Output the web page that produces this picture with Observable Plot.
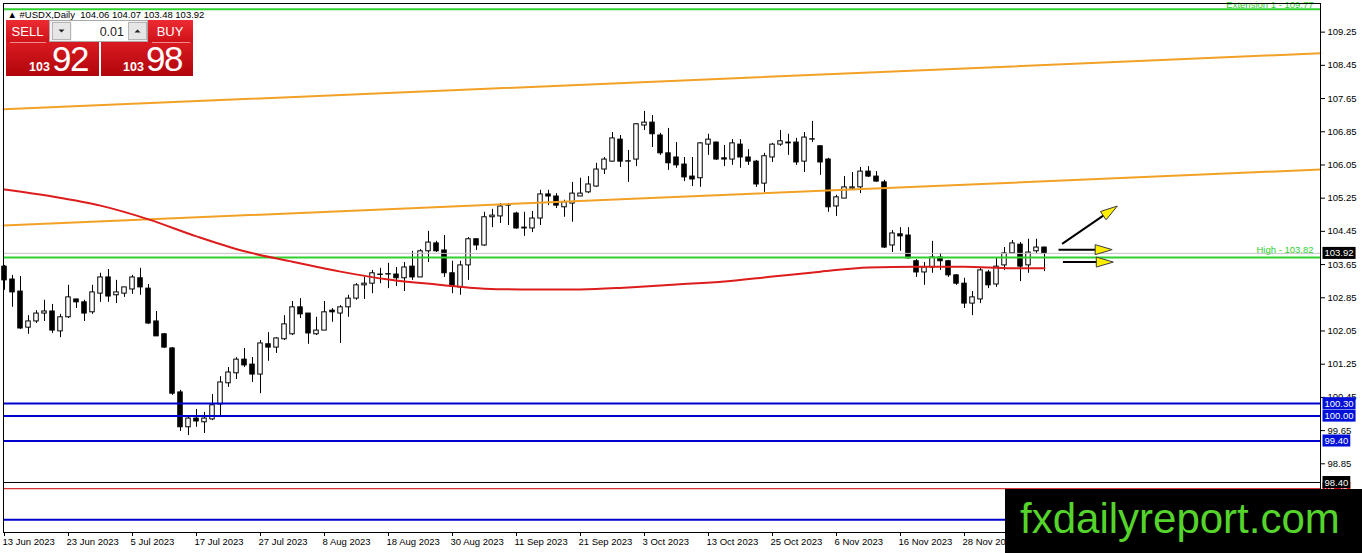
<!DOCTYPE html>
<html><head><meta charset="utf-8">
<script src="https://cdn.jsdelivr.net/npm/d3@7"></script>
<script src="https://cdn.jsdelivr.net/npm/@observablehq/plot@0.6"></script>
<style>
html,body{margin:0;padding:0;background:#fff;}
#wrap{position:relative;width:1362px;height:553px;overflow:hidden;}
#wrap svg{display:block;}
#overlay{position:absolute;left:0;top:0;pointer-events:none;}
</style></head><body>
<div id="wrap"></div>
<script>
// ---- data (USDX daily, 13 Jun 2023 onward, one value per trading day) ----
const open = [103.60,103.29,103.00,102.13,102.28,102.47,102.52,102.04,102.38,102.81,
102.74,102.50,102.95,103.34,102.91,102.95,103.05,103.32,103.07,102.28,
101.97,101.63,100.57,99.73,99.94,99.85,99.92,100.28,100.79,101.03,
101.36,101.24,101.00,101.73,101.65,101.85,101.97,102.62,102.47,101.97,
102.06,102.54,102.47,102.62,102.83,103.15,103.19,103.40,103.41,103.41,
103.32,103.60,103.34,103.97,104.16,103.99,103.44,103.10,103.63,104.26,
104.11,104.79,104.81,105.07,104.88,104.52,104.52,104.76,105.34,105.29,
105.03,105.12,105.29,105.39,105.53,105.94,106.13,106.66,106.13,106.18,
107.00,107.07,106.76,106.33,106.23,106.06,105.77,105.73,106.54,106.59,
106.21,106.18,106.54,106.23,106.13,105.60,106.23,106.54,106.59,106.59,
106.13,106.66,106.50,106.18,105.05,105.24,105.48,105.51,105.89,105.77,
105.63,104.11,104.38,104.35,103.73,103.46,103.58,103.82,103.73,103.39,
103.19,102.71,102.81,103.46,103.17,103.63,103.92,104.13,103.63,103.97,
104.06];
const high = [103.63,103.39,103.36,102.42,102.54,102.79,102.69,102.45,103.15,102.81,
102.79,103.15,103.44,103.53,103.27,103.10,103.39,103.56,103.17,102.52,
101.99,101.65,100.62,100.01,100.16,100.09,100.52,100.95,101.17,101.41,
101.63,101.41,101.82,102.01,101.89,102.42,102.76,102.83,102.47,102.38,
102.76,102.59,102.66,102.91,103.19,103.34,103.51,103.56,103.68,103.58,
103.70,103.97,104.01,104.45,104.21,104.35,103.73,103.73,104.30,104.26,
104.91,104.98,105.12,105.12,104.91,104.91,104.93,105.44,105.44,105.36,
105.20,105.63,105.73,105.77,106.09,106.23,106.83,106.76,106.40,107.05,
107.34,107.24,106.81,106.93,106.59,106.23,106.23,106.59,106.79,106.60,
106.52,106.66,106.66,106.42,106.16,106.33,106.57,106.88,106.79,106.69,
106.83,107.10,106.51,106.21,105.32,105.77,105.87,105.99,106.01,105.89,
105.68,104.47,104.54,104.54,103.77,103.70,104.21,103.92,103.75,103.41,
103.32,103.00,103.58,103.51,103.82,104.06,104.23,104.18,104.26,104.26,
104.07];
const low = [103.03,102.62,102.09,101.97,102.23,102.28,101.99,101.89,102.35,102.59,
102.28,102.45,102.74,102.74,102.71,102.86,102.93,102.91,102.21,101.92,
101.63,100.50,99.63,99.53,99.73,99.58,99.89,99.97,100.69,100.88,
101.17,100.81,100.54,101.32,101.51,101.82,101.94,102.35,101.73,101.94,
102.06,102.26,101.75,102.38,102.79,102.81,102.95,103.19,103.07,103.12,
103.00,103.27,103.34,103.70,103.94,103.34,102.95,102.91,103.27,103.99,
104.09,104.54,104.64,104.59,104.50,104.33,104.42,104.59,105.07,105.00,
104.79,104.67,105.29,105.36,105.51,105.82,106.12,105.99,105.63,106.01,
106.88,106.47,106.28,105.92,105.97,105.65,105.53,105.51,106.28,106.16,
106.01,106.04,105.97,106.04,105.51,105.39,106.11,106.50,106.28,106.04,
105.87,106.59,105.80,104.91,104.81,105.24,105.44,105.36,105.75,105.63,
104.04,103.94,103.97,103.78,103.34,103.15,103.44,103.51,103.34,103.15,
102.59,102.42,102.71,103.07,103.10,103.51,103.91,103.24,103.44,103.92,
103.48];
const close = [103.27,102.98,102.11,102.28,102.47,102.52,102.06,102.38,102.86,102.74,
102.47,102.98,103.34,102.88,102.98,103.10,103.34,103.10,102.23,101.92,
101.65,100.54,99.73,99.94,99.87,99.94,100.26,100.81,101.05,101.36,
101.22,101.00,101.75,101.65,101.87,102.21,102.62,102.45,101.99,102.06,
102.50,102.50,102.62,102.83,103.15,103.19,103.44,103.41,103.42,103.32,
103.58,103.34,103.97,104.18,103.97,103.44,103.12,103.63,104.26,104.11,
104.79,104.83,105.05,105.08,104.52,104.54,104.76,105.34,105.29,105.07,
105.15,105.36,105.36,105.58,105.94,106.18,106.69,106.13,106.14,107.03,
107.07,106.79,106.33,106.09,106.04,105.75,105.70,106.57,106.66,106.18,
106.18,106.57,106.23,106.13,105.58,106.26,106.54,106.62,106.57,106.11,
106.71,106.67,106.11,105.03,105.27,105.51,105.51,105.89,105.77,105.65,
104.06,104.40,104.33,103.80,103.46,103.58,103.82,103.73,103.39,103.19,
102.71,102.86,103.51,103.15,103.60,103.92,104.16,103.60,103.94,104.06,
103.92];

const tickLabels = ["13 Jun 2023","23 Jun 2023","5 Jul 2023","17 Jul 2023","27 Jul 2023","8 Aug 2023","18 Aug 2023","30 Aug 2023","11 Sep 2023","21 Sep 2023","3 Oct 2023","13 Oct 2023","25 Oct 2023","6 Nov 2023","16 Nov 2023","28 Nov 2023"];
const barsPerTick = 8;
const priceTicks = [109.25,108.45,107.65,106.85,106.05,105.25,104.45,103.65,102.85,102.05,101.25,100.45,99.65,98.85];

// moving average (red), read at sample bars
const maBar   = [0,6,12,18,24,30,36,42,48,54,60,66,72,78,84,90,96,102,108,114,120,126,130];
const maValue = [105.46,105.29,105.07,104.74,104.33,103.97,103.72,103.48,103.29,103.17,103.07,103.05,103.05,103.10,103.17,103.24,103.36,103.48,103.58,103.60,103.60,103.56,103.56];

// orange channel (value at left edge, value at right edge)
const channelUpper = [107.39, 108.74];
const channelLower = [104.59, 105.94];

const greenLevels = [109.80, 103.82];
const blueLevels = [100.30, 100.00, 99.40, 97.50];
const blackLevel = 98.40;
const redLevel = 98.25;
const bidPrice = 103.92;

const tagPrices = [103.92, 100.30, 100.00, 99.40, 98.25, 98.40];
const tagColors = ["#000000", "#0010d8", "#0010d8", "#0010d8", "#d00000", "#000000"];

const arrowFromBar = [132.2, 131.75, 132.3];
const arrowFromPrice = [104.15, 104.01, 103.71];
const arrowToBar = [139.1, 138.46, 138.6];
const arrowToPrice = [105.06, 104.01, 103.71];

// ---- layout ----
const W = 1362, H = 553;
const mL = 3, mR = 42, mT = 3, mB = 21;
const xDomain = [-0.125, 164.5];
const yDomain = [97.195, 109.94];
const pxPerBar = (W - mL - mR) / (xDomain[1] - xDomain[0]);
const pxPerUnit = (H - mT - mB) / (yDomain[1] - yDomain[0]);

const bars = open.map((o, i) => ({i, o, h: high[i], l: low[i], c: close[i]}));
const ma = maBar.map((b, k) => ({i: b, v: maValue[k]}));
const up = [{i: xDomain[0], v: channelUpper[0]}, {i: xDomain[1], v: channelUpper[1]}];
const lo = [{i: xDomain[0], v: channelLower[0]}, {i: xDomain[1], v: channelLower[1]}];
const tickIdx = tickLabels.map((_, k) => k * barsPerTick);
const tags = tagPrices.map((p, k) => ({i: xDomain[1], p, bg: tagColors[k]}));

const GREEN = "#2fd12f", BLUE = "#0000cd", ORANGE = "#f2a126", RED = "#dd1c1c";
const TAGFILL = "#fefefe";

// arrows
const HEAD_L = 17, HEAD_W = 5;
const arrows = arrowFromBar.map((x1, k) => {
  const sx = (arrowToBar[k] - x1) * pxPerBar;
  const sy = -(arrowToPrice[k] - arrowFromPrice[k]) * pxPerUnit;
  const len = Math.hypot(sx, sy), ux = sx / len, uy = sy / len;
  const back = HEAD_L - 4;
  return {
    x1, y1: arrowFromPrice[k], x2: arrowToBar[k], y2: arrowToPrice[k],
    sx2: arrowToBar[k] - back * ux / pxPerBar,
    sy2: arrowToPrice[k] + back * uy / pxPerUnit,
    symbol: {draw(ctx) {
      const bx = -HEAD_L * ux, by = -HEAD_L * uy;
      ctx.moveTo(0, 0);
      ctx.lineTo(bx - HEAD_W * uy, by + HEAD_W * ux);
      ctx.lineTo(bx + HEAD_W * uy, by - HEAD_W * ux);
      ctx.closePath();
    }}
  };
});

const FONT = "Tahoma, 'Liberation Sans', Arial, sans-serif";

const chart = Plot.plot({
  width: W, height: H,
  marginLeft: mL, marginRight: mR, marginTop: mT, marginBottom: mB,
  style: {background: "white", color: "black", fontFamily: FONT, fontSize: "9.5px"},
  x: {domain: xDomain, ticks: tickIdx, tickFormat: d => tickLabels[Math.round(d / barsPerTick)], tickSize: 4, tickPadding: 2, label: null},
  y: {domain: yDomain, axis: "right", ticks: priceTicks, tickFormat: ".2f", tickSize: 4, tickPadding: 3, label: null},
  marks: [
    Plot.ruleX(bars, {x: "i", y1: "l", y2: "h", stroke: "black", strokeWidth: 1}),
    Plot.rect(bars.filter(d => d.c >= d.o), {x1: d => d.i - 0.28, x2: d => d.i + 0.28, y1: "o", y2: "c", fill: "white", stroke: "black", strokeWidth: 1}),
    Plot.rect(bars.filter(d => d.c < d.o), {x1: d => d.i - 0.28, x2: d => d.i + 0.28, y1: "o", y2: "c", fill: "black", stroke: "black", strokeWidth: 1}),
    Plot.ruleY([bidPrice], {stroke: "#c4c4c4", strokeWidth: 1}),
    Plot.ruleY(greenLevels, {stroke: GREEN, strokeWidth: 2}),
    Plot.ruleY(blueLevels, {stroke: BLUE, strokeWidth: 2}),
    Plot.ruleY([blackLevel], {stroke: "black", strokeWidth: 1}),
    Plot.ruleY([redLevel], {stroke: "#cc0000", strokeWidth: 1}),
    Plot.line(up, {x: "i", y: "v", stroke: ORANGE, strokeWidth: 2}),
    Plot.line(lo, {x: "i", y: "v", stroke: ORANGE, strokeWidth: 2}),
    Plot.line(ma, {x: "i", y: "v", stroke: RED, strokeWidth: 2, curve: "monotone-x"}),
    Plot.link(arrows, {x1: "x1", y1: "y1", x2: "sx2", y2: "sy2", stroke: "black", strokeWidth: 2}),
    ...arrows.map(a => Plot.dot([a], {x: "x2", y: "y2", symbol: a.symbol, fill: "#ffee00", stroke: "#3a3a3a", strokeWidth: 1})),
    Plot.text([{i: xDomain[1], v: greenLevels[1]}], {x: "i", y: "v", text: () => "High - 103.82", textAnchor: "end", dx: -7, dy: -8, fill: GREEN}),
    Plot.text([{i: xDomain[1], v: greenLevels[0]}], {x: "i", y: "v", text: () => "Extension 1 - 109.77", textAnchor: "end", dx: -7, dy: -4.5, fill: GREEN}),
    Plot.text(["\u25B2 #USDX,Daily\u00A0\u00A0104.06 104.07 103.48 103.92"], {frameAnchor: "top-left", text: d => d, dx: 4, dy: 8, textAnchor: "start", fill: "black"}),
    Plot.frame({stroke: "black"}),
    Plot.text(tags, {x: "i", y: "p", text: d => d3.format(".2f")(d.p), dx: 4, textAnchor: "start", fill: TAGFILL, ariaLabel: "price-tag"})
  ]
});

const wrap = document.getElementById("wrap");
wrap.appendChild(chart);

// left-align the date labels like the trading terminal
d3.select(chart).selectAll('[aria-label^="x-axis"] text').attr("text-anchor", "start").attr("dx", "-2");

// coloured boxes behind the price tags
const NS = "http://www.w3.org/2000/svg";
const groups = [...chart.querySelectorAll("g")];
let tagGroup = groups.find(g => g.getAttribute("aria-label") === "price-tag");
if (!tagGroup) tagGroup = groups.find(g => (g.getAttribute("fill") || "").toLowerCase() === TAGFILL && g.querySelector("text"));
let tagTexts = tagGroup ? [...tagGroup.querySelectorAll("text")] : [];
if (!tagTexts.length) {
  tagTexts = [...chart.querySelectorAll("text")].filter(t => (t.getAttribute("fill") || "").toLowerCase() === TAGFILL);
}
tagTexts.forEach((t, k) => {
  const b = t.getBBox();
  const r = document.createElementNS(NS, "rect");
  r.setAttribute("x", b.x - 2);
  r.setAttribute("y", b.y - 0.5);
  r.setAttribute("width", b.width + 4);
  r.setAttribute("height", b.height + 1);
  r.setAttribute("fill", tags[k] ? tags[k].bg : "black");
  if (t.getAttribute("transform")) r.setAttribute("transform", t.getAttribute("transform"));
  t.parentNode.insertBefore(r, t);
});
// keep the tags above the axis labels
if (tagGroup) chart.appendChild(tagGroup);

// trading panel + watermark overlay
wrap.insertAdjacentHTML("beforeend", `
<svg id="overlay" width="1362" height="553" xmlns="http://www.w3.org/2000/svg" font-family="'Liberation Sans', Arial, sans-serif">
<defs>
<linearGradient id="gTop" x1="0" y1="0" x2="0" y2="1"><stop offset="0" stop-color="#ec2c32"/><stop offset="1" stop-color="#cf1118"/></linearGradient>
<linearGradient id="gPrice" x1="0" y1="0" x2="0" y2="1"><stop offset="0" stop-color="#d91b21"/><stop offset="1" stop-color="#b0050b"/></linearGradient>
</defs>
<rect x="6" y="20" width="43" height="22" fill="url(#gTop)"/>
<text x="27.5" y="35.5" text-anchor="middle" font-size="13" fill="#fff">SELL</text>
<rect x="49.5" y="20.5" width="98" height="21" fill="#f0f0f0" stroke="#a9a9a9"/>
<rect x="52.5" y="22.5" width="18" height="17" fill="#e6e6e6" stroke="#b5b5b5"/>
<path d="M58.5 29.5 h6 l-3 3 z" fill="#222"/>
<rect x="72" y="21" width="56" height="20" fill="#fff"/>
<text x="124" y="35.5" text-anchor="end" font-size="12.5" fill="#222">0.01</text>
<rect x="128.5" y="22.5" width="18" height="17" fill="#e6e6e6" stroke="#b5b5b5"/>
<path d="M134.5 32.5 h6 l-3 -3 z" fill="#222"/>
<rect x="148" y="20" width="45" height="22" fill="url(#gTop)"/>
<text x="170" y="35.5" text-anchor="middle" font-size="13" fill="#fff">BUY</text>
<rect x="6" y="42" width="93" height="34" fill="url(#gPrice)"/>
<line x1="10" y1="42.5" x2="46" y2="42.5" stroke="#f08a8d"/>
<rect x="101" y="42" width="92" height="34" fill="url(#gPrice)"/>
<line x1="152" y1="42.5" x2="190" y2="42.5" stroke="#f08a8d"/>
<text x="29" y="71" font-size="12.5" font-weight="bold" fill="#fff">103</text>
<text x="52" y="71" font-size="35" letter-spacing="-1.5" fill="#fff">92</text>
<text x="123" y="71" font-size="12.5" font-weight="bold" fill="#fff">103</text>
<text x="146" y="71" font-size="35" letter-spacing="-1.5" fill="#fff">98</text>
<rect x="1005" y="489" width="357" height="64" fill="#000"/>
<text x="1020" y="533" font-size="42" fill="#55d42c">fxdailyreport.com</text>
</svg>`);
</script>
</body></html>
